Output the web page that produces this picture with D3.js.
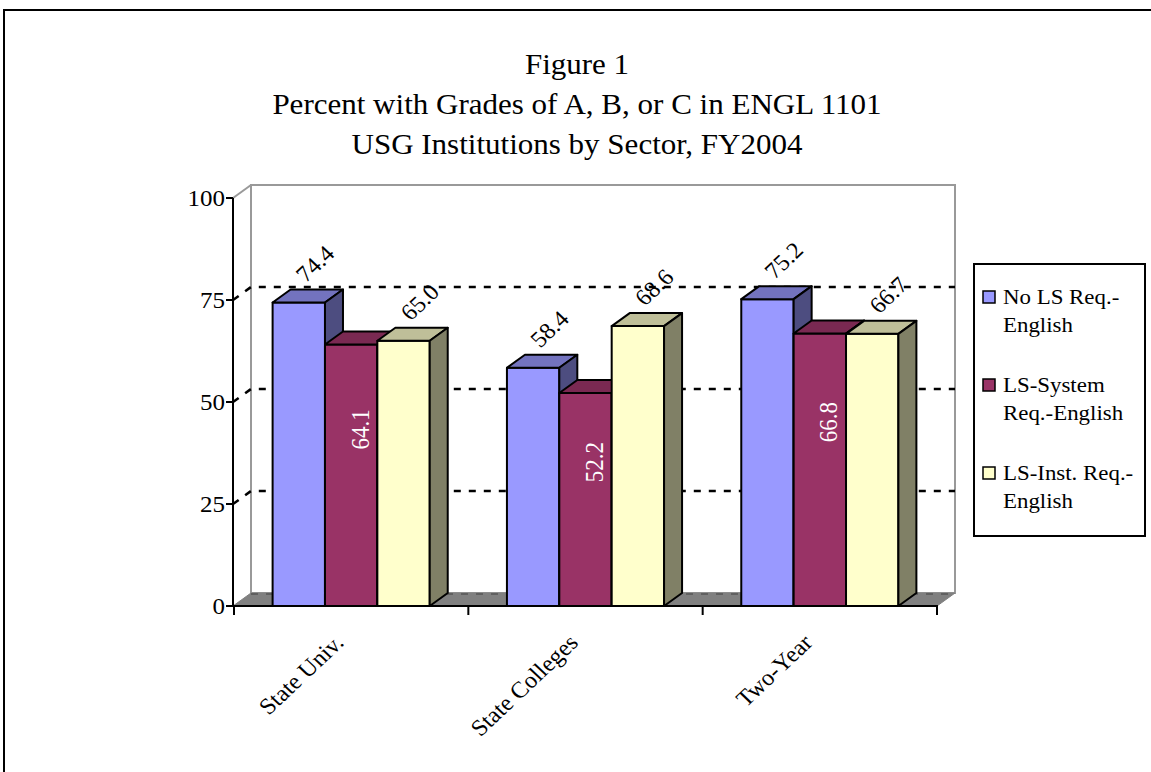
<!DOCTYPE html>
<html>
<head>
<meta charset="utf-8">
<script src="https://cdn.jsdelivr.net/npm/d3@7"></script>
<style>
  html, body { margin: 0; padding: 0; background: #fff; }
  svg { display: block; }
  text { font-family: "Liberation Serif", "Times New Roman", serif; }
</style>
</head>
<body>
<svg id="chart" width="1151" height="772"></svg>
<script>
// ---------- data ----------
const titleLines = ["Figure 1", "Percent with Grades of A, B, or C in ENGL 1101", "USG Institutions by Sector, FY2004"];
const categories = ["State Univ.", "State Colleges", "Two-Year"];
const seriesNames = ["No LS Req.-English", "LS-System Req.-English", "LS-Inst. Req.-English"];
const legendLines = [["No LS Req.-", "English"], ["LS-System", "Req.-English"], ["LS-Inst. Req.-", "English"]];
const noLS     = [74.4, 58.4, 75.2];
const lsSystem = [64.1, 52.2, 66.8];
const lsInst   = [65.0, 68.6, 66.7];
const yTicks   = [0, 25, 50, 75, 100];

const seriesValues = [noLS, lsSystem, lsInst];
const colors = [
  { front: "#9999FF", top: "#7373BF", side: "#4D4D80" },
  { front: "#993366", top: "#7A2952", side: "#4D1A33" },
  { front: "#FFFFCC", top: "#BFBF99", side: "#808066" }
];
const labelInside = [false, true, false];

// ---------- layout ----------
const svg = d3.select("#chart");
const DX = 18, DY = 13;     // 3-D depth offset
const AX = 233;             // y-axis x
const x = d3.scaleBand().domain(categories).range([234, 937]).padding(0);
const y = d3.scaleLinear().domain([0, 100]).range([606, 198]);
const x0 = AX, x1 = 937;
const fmt = d3.format(".1f");

svg.append("rect").attr("width", 1151).attr("height", 772).attr("fill", "#fff");
// outer frame
svg.append("rect").attr("x", 4).attr("y", 10).attr("width", 1170).attr("height", 800)
  .attr("fill", "none").attr("stroke", "#000").attr("stroke-width", 2);

// title
svg.append("g").selectAll("text").data(titleLines).join("text")
  .attr("transform", (d, i) => `translate(577,${74 + i * 40}) scale(1.07,1)`)
  .attr("text-anchor", "middle").attr("font-size", 29).attr("fill", "#000")
  .text(d => d);

// ---------- walls & floor ----------
const wall = svg.append("g");
wall.append("rect")
  .attr("x", x0 + DX).attr("y", y(100) - DY)
  .attr("width", (x1 + DX) - (x0 + DX)).attr("height", y(0) - y(100))
  .attr("fill", "#fff").attr("stroke", "#999").attr("stroke-width", 2);
wall.append("line")
  .attr("x1", x0).attr("y1", y(100)).attr("x2", x0 + DX).attr("y2", y(100) - DY)
  .attr("stroke", "#999").attr("stroke-width", 2);
wall.selectAll("path.grid").data(yTicks.filter(t => t > 0 && t < 100)).join("path")
  .attr("class", "grid")
  .attr("d", t => `M${x0},${y(t)} L${x0 + DX},${y(t) - DY} L${x1 + DX},${y(t) - DY}`)
  .attr("fill", "none").attr("stroke", "#000").attr("stroke-width", 2.5)
  .attr("stroke-dasharray", "7,8");
wall.append("path")
  .attr("d", `M${x0},${y(0)} L${x0 + DX},${y(0) - DY} L${x1 + DX},${y(0) - DY} L${x1},${y(0)} Z`)
  .attr("fill", "#808080").attr("stroke", "#808080").attr("stroke-width", 1);
wall.append("line")
  .attr("x1", x0 + DX).attr("y1", y(0) - DY + 1).attr("x2", x1 + DX).attr("y2", y(0) - DY + 1)
  .attr("stroke", "#555").attr("stroke-width", 1.5).attr("stroke-dasharray", "7,8");

// ---------- bars ----------
const bw = x.bandwidth();
const barW = bw * 0.2235;
const groupOff = (bw - 3 * barW) / 2;
const bars = svg.append("g").attr("stroke", "#000").attr("stroke-width", 2).attr("stroke-linejoin", "round");
categories.forEach((cat, ci) => {
  seriesValues.forEach((vals, si) => {
    const v = vals[ci];
    const bx = x(cat) + groupOff + si * barW;
    const by = y(v), b0 = y(0);
    const c = colors[si];
    bars.append("rect").attr("x", bx).attr("y", by).attr("width", barW).attr("height", b0 - by)
      .attr("fill", c.front);
    bars.append("path")
      .attr("d", `M${bx},${by} L${bx + DX},${by - DY} L${bx + barW + DX},${by - DY} L${bx + barW},${by} Z`)
      .attr("fill", c.top);
    bars.append("path")
      .attr("d", `M${bx + barW},${by} L${bx + barW + DX},${by - DY} L${bx + barW + DX},${b0 - DY} L${bx + barW},${b0} Z`)
      .attr("fill", c.side);
  });
});

// ---------- data labels ----------
const labels = svg.append("g").attr("font-size", 23);
categories.forEach((cat, ci) => {
  seriesValues.forEach((vals, si) => {
    const v = vals[ci];
    const cx = x(cat) + groupOff + si * barW + barW / 2 + DX / 2;
    if (labelInside[si]) {
      const cy = y(v * 0.675);
      labels.append("text")
        .attr("transform", `translate(${cx},${cy}) scale(1.06,1) rotate(-90)`)
        .attr("text-anchor", "middle").attr("dy", "0.35em").attr("fill", "#fff")
        .text(fmt(v));
    } else {
      labels.append("text")
        .attr("transform", `translate(${cx - 2},${y(v) - DY - 6}) scale(1.06,1) rotate(-45)`)
        .attr("text-anchor", "start").attr("fill", "#000")
        .text(fmt(v));
    }
  });
});

// ---------- axes ----------
const axes = svg.append("g").attr("stroke", "#000").attr("stroke-width", 2);
axes.append("line").attr("x1", AX).attr("y1", y(100)).attr("x2", AX).attr("y2", y(0) + 1);
axes.selectAll("line.yt").data(yTicks).join("line").attr("class", "yt")
  .attr("x1", AX - 7).attr("x2", AX).attr("y1", d => y(d)).attr("y2", d => y(d));
axes.append("line").attr("x1", AX).attr("y1", y(0)).attr("x2", x1 + 1).attr("y2", y(0));
const xTickPos = categories.map(c => x(c)).concat([x(categories[categories.length - 1]) + bw]);
axes.selectAll("line.xt").data(xTickPos).join("line").attr("class", "xt")
  .attr("x1", d => d).attr("x2", d => d).attr("y1", y(0)).attr("y2", y(0) + 9);

svg.append("g").attr("font-size", 24).selectAll("text").data(yTicks).join("text")
  .attr("transform", d => `translate(225,${y(d)}) scale(1.04,1)`)
  .attr("text-anchor", "end").attr("dy", "0.35em").text(d => d);

svg.append("g").attr("font-size", 23).selectAll("text").data(categories).join("text")
  .attr("transform", d => `translate(${x(d) + bw / 2 - 6},${y(0) + 38}) scale(1.06,1) rotate(-45)`)
  .attr("text-anchor", "end").text(d => d);

// ---------- legend ----------
const lg = svg.append("g");
lg.append("rect").attr("x", 974).attr("y", 264).attr("width", 171).attr("height", 272)
  .attr("fill", "#fff").attr("stroke", "#000").attr("stroke-width", 2);
legendLines.forEach((lines, i) => {
  const cy = 297 + i * 88;
  lg.append("rect").attr("x", 983).attr("y", cy - 6).attr("width", 12).attr("height", 12)
    .attr("fill", colors[i].front).attr("stroke", "#000").attr("stroke-width", 1.5);
  lines.forEach((ln, j) => {
    lg.append("text")
      .attr("transform", `translate(1003,${cy + 7 + j * 28}) scale(1.04,1)`)
      .attr("font-size", 22).attr("fill", "#000").text(ln);
  });
});
</script>
</body>
</html>
